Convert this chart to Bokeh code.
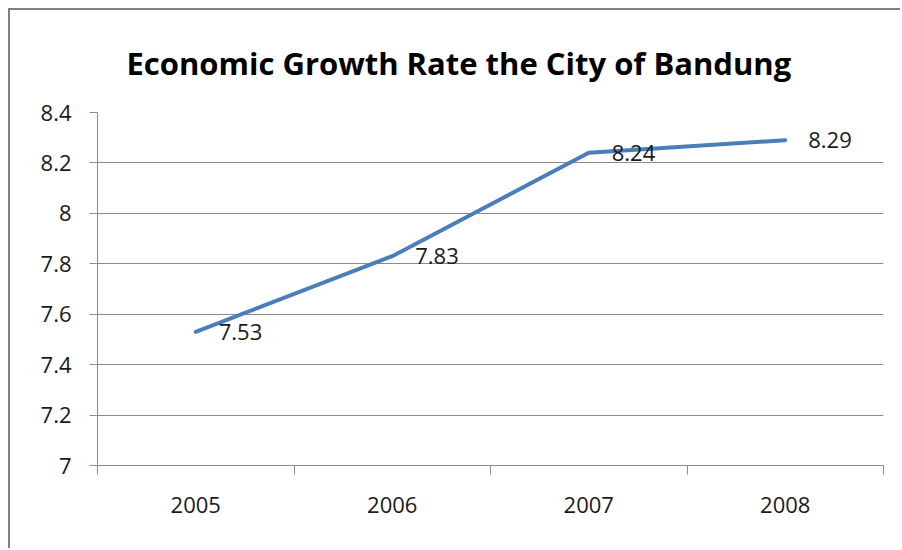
from bokeh.plotting import figure
from bokeh.models import (ColumnDataSource, LabelSet, LinearAxis,
                          Range1d, FixedTicker, Title)
from bokeh.core.properties import value
from bokeh.embed import file_html
from bokeh.resources import INLINE

# ---- data ----
years = ["2005", "2006", "2007", "2008"]
growth = [7.53, 7.83, 8.24, 8.29]
growth_labels = ["7.53", "7.83", "8.24", "8.29"]
y_ticks = [7.0, 7.2, 7.4, 7.6, 7.8, 8.0, 8.2, 8.4]
y_tick_labels = ["7", "7.2", "7.4", "7.6", "7.8", "8", "8.2", "8.4"]
title_text = "Economic Growth Rate the City of Bandung"

FONT = "Open Sans"
GRID = "#8c8c8c"
TXT = "#1a1a1a"
BLUE = "#4a7ebb"

W, H = 892, 540
p = figure(width=W, height=H, x_range=years, y_range=Range1d(7.0, 8.4),
           output_backend="svg", toolbar_location=None,
           x_axis_location=None, y_axis_location=None,
           min_border_left=87, min_border_right=W - 873,
           min_border_top=98, min_border_bottom=H - 455)
p.styles = {"margin-left": "8px", "margin-top": "8px",
            "border-left": "2px solid #7f7f7f", "border-top": "2px solid #7f7f7f"}
p.outline_line_color = None
p.background_fill_color = "white"
p.border_fill_color = "white"

t = Title(text=title_text, align="left", text_font=FONT, text_font_size="31px",
          text_font_style="bold", text_color="black", offset=29, standoff=58)
p.add_layout(t, "above")

# y axis
yax = LinearAxis(ticker=FixedTicker(ticks=y_ticks),
                 major_label_overrides=dict(zip(y_ticks, y_tick_labels)),
                 axis_line_color=GRID, major_tick_line_color=GRID,
                 major_tick_out=8, major_tick_in=0, minor_tick_line_color=None,
                 major_label_standoff=18, major_label_text_font=FONT,
                 major_label_text_font_size="22px", major_label_text_color=TXT)
p.add_layout(yax, "left")

# x axis: labels at category centres, tick marks at category edges
# (positions in the factor range's synthetic coordinates)
n = len(years)
centres = [i + 0.5 for i in range(n)]
edges = [float(i) for i in range(n + 1)]
xax = LinearAxis(ticker=FixedTicker(ticks=centres, minor_ticks=edges),
                 major_label_overrides=dict(zip(centres, years)),
                 axis_line_color=GRID, major_tick_line_color=None,
                 major_tick_out=0, major_tick_in=0,
                 minor_tick_line_color=GRID, minor_tick_out=9, minor_tick_in=0,
                 major_label_standoff=22, major_label_text_font=FONT,
                 major_label_text_font_size="22px", major_label_text_color=TXT)
p.add_layout(xax, "below")

p.ygrid.ticker = FixedTicker(ticks=y_ticks)
p.ygrid.grid_line_color = GRID
p.ygrid.grid_line_width = 1
p.xgrid.grid_line_color = None

src = ColumnDataSource(dict(x=years, y=growth, lab=growth_labels))
p.line("x", "y", source=src, line_color=BLUE, line_width=4, line_cap="round", line_join="round")

labels = LabelSet(x="x", y="y", text="lab", source=src, x_offset=23, y_offset=0,
                  text_align="left", text_baseline="middle", text_font=value(FONT),
                  text_font_size=value("22px"), text_color=TXT)
p.add_layout(labels)

html = file_html(p, INLINE)
html = html.replace("</head>", "<style>html, body { overflow: hidden; }</style></head>", 1)
open("out.html", "w").write(html)
